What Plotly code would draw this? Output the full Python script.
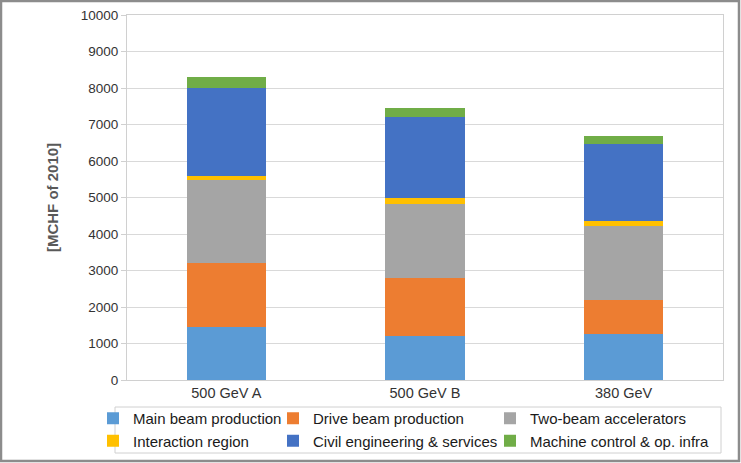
import plotly.graph_objects as go

categories = ["500 GeV A", "500 GeV B", "380 GeV"]
main_beam = [1440, 1203, 1257]
drive_beam = [1776, 1594, 930]
two_beam = [2251, 2032, 2041]
interaction = [128, 155, 127]
civil = [2405, 2214, 2114]
machine = [292, 246, 228]

series_names = ["Main beam production", "Drive beam production", "Two-beam accelerators",
                "Interaction region", "Civil engineering & services", "Machine control & op. infra"]
series_values = [main_beam, drive_beam, two_beam, interaction, civil, machine]
colors = ["#5B9BD5", "#ED7D31", "#A5A5A5", "#FFC000", "#4472C4", "#70AD47"]
# legend column for each series (legend laid out as 3 columns x 2 rows)
legend_ids = ["legend", "legend2", "legend3", "legend", "legend2", "legend3"]

W, H = 741, 463
ML, MR, MT, MB = 127, 18, 15, 83
PW, PH = W - ML - MR, H - MT - MB

def px_x(px):
    return (px - ML) / PW

def px_y(py):
    return (H - MB - py) / PH

fig = go.Figure()
for name, vals, col, lg in zip(series_names, series_values, colors, legend_ids):
    fig.add_trace(go.Bar(x=categories, y=vals, name=name, legend=lg,
                         marker=dict(color=col, line=dict(width=0))))

legend_font = dict(size=15, color="#1a1a1a", family="Liberation Sans, Arial, sans-serif")
def legend_at(text_px):
    return dict(orientation="v", x=px_x(text_px - 40), xanchor="left",
                y=px_y(402), yanchor="top", borderwidth=0, bgcolor="rgba(0,0,0,0)",
                font=legend_font, traceorder="normal", itemclick=False, tracegroupgap=0)

fig.update_layout(
    width=W, height=H,
    margin=dict(l=ML, r=MR, t=MT, b=MB, autoexpand=False),
    barmode="stack", bargap=0.6,
    paper_bgcolor="white", plot_bgcolor="white",
    font=dict(family="Liberation Sans, Arial, sans-serif", color="#404040"),
    yaxis=dict(range=[0, 10000], dtick=1000, tickformat="d", showgrid=True,
               gridcolor="#d9d9d9", gridwidth=1,
               showline=True, linecolor="#d0d0d0", linewidth=1, mirror=True,
               ticks="outside", ticklen=5, tickcolor="#d0d0d0",
               tickfont=dict(size=13.5, color="#333333"), automargin=False,
               title=dict(text="<b>[MCHF of 2010]</b>", font=dict(size=15, color="#595959"), standoff=18),
               zeroline=False),
    xaxis=dict(showline=True, linecolor="#d0d0d0", linewidth=1, mirror=True, automargin=False,
               tickfont=dict(size=14.5, color="#333333"), ticks=""),
    legend=legend_at(133),
    legend2=legend_at(313),
    legend3=legend_at(530),
    shapes=[
        dict(type="rect", xref="paper", yref="paper",
             x0=px_x(115), x1=px_x(721), y0=px_y(453), y1=px_y(407),
             line=dict(color="#d0d0d0", width=1), fillcolor="rgba(0,0,0,0)", layer="below"),
        dict(type="rect", xref="paper", yref="paper",
             x0=px_x(1), x1=px_x(739), y0=px_y(461), y1=px_y(1),
             line=dict(color="#8c8c8c", width=2.5), fillcolor="rgba(0,0,0,0)", layer="above"),
    ],
)

fig.write_html("out.html", config={"displayModeBar": False},
               post_script="document.body.style.margin='0';")
